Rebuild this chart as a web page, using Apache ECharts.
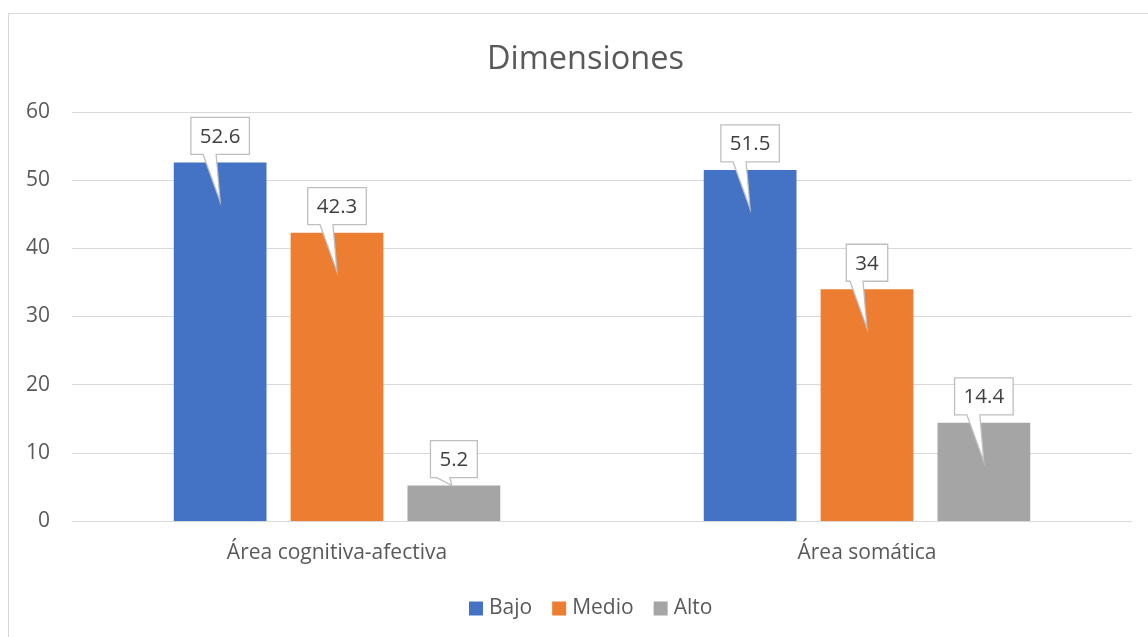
<!DOCTYPE html>
<html>
<head>
<meta charset="utf-8">
<script src="https://cdn.jsdelivr.net/npm/echarts@6/dist/echarts.min.js"></script>
<style>
  html, body { margin: 0; padding: 0; background: #fff; overflow: hidden; }
  #chart { position: absolute; left: 0; top: 0; width: 1148px; height: 637px; }
  #frame { position: absolute; left: 8px; top: 13px; width: 1200px; height: 700px; border: 1px solid #D9D9D9; pointer-events: none; }
</style>
</head>
<body>
<div id="chart"></div>
<div id="frame"></div>
<script>
const categories = ['Área cognitiva-afectiva', 'Área somática'];
const seriesNames = ['Bajo', 'Medio', 'Alto'];
const bajo = [52.6, 51.5];
const medio = [42.3, 34];
const alto = [5.2, 14.4];
const yMin = 0, yMax = 60, yInterval = 10;

const colors = ['#4472C4', '#ED7D31', '#A5A5A5'];
const FONT = '"Open Sans", "Liberation Sans", sans-serif';
const values = [bajo, medio, alto];
const BAR_FRAC = 0.175, GAP_FRAC = 0.26;

const measureCtx = document.createElement('canvas').getContext('2d');
measureCtx.font = '20.5px ' + FONT;

const calloutData = [];
values.forEach((arr, si) => arr.forEach((v, ci) => calloutData.push([ci, v, si])));

const chart = echarts.init(document.getElementById('chart'));
chart.setOption({
  backgroundColor: 'transparent',
  title: {
    text: 'Dimensiones', left: 482, top: 38,
    textStyle: { fontFamily: FONT, fontSize: 32.5, fontWeight: 'normal', color: '#595959' }
  },
  legend: {
    data: seriesNames, bottom: 13, left: 464, icon: 'rect', itemWidth: 14, itemHeight: 14, itemGap: 20,
    textStyle: { fontFamily: FONT, fontSize: 21, color: '#595959', padding: [0, 0, 0, 1] }
  },
  grid: { left: 72, right: 16, top: 112, bottom: 116, containLabel: false },
  xAxis: {
    type: 'category', data: categories,
    axisLine: { lineStyle: { color: '#D9D9D9' } },
    axisTick: { show: false },
    axisLabel: { fontFamily: FONT, fontSize: 21, color: '#595959', margin: 22 }
  },
  yAxis: {
    type: 'value', min: yMin, max: yMax, interval: yInterval,
    axisLine: { show: false }, axisTick: { show: false },
    splitLine: { lineStyle: { color: '#D9D9D9' } },
    axisLabel: { fontFamily: FONT, fontSize: 21, color: '#595959', margin: 22 }
  },
  series: values.map((arr, i) => ({
    name: seriesNames[i], type: 'bar', data: arr,
    barWidth: (BAR_FRAC * 100) + '%', barGap: (GAP_FRAC * 100) + '%',
    itemStyle: { color: colors[i] }
  })).concat([{
    type: 'custom', data: calloutData, z: 10, silent: true,
    renderItem: function (params, api) {
      const ci = api.value(0), v = api.value(1), si = api.value(2);
      const top = api.coord([ci, v]);
      const base = api.coord([ci, 0]);
      const band = api.size([1, 0])[0];
      const bw = band * BAR_FRAC, gap = bw * GAP_FRAC;
      const cx = top[0] + (si - 1) * (bw + gap);
      const txt = String(v);
      const tw = measureCtx.measureText(txt).width;
      const boxW = tw + 18, boxH = 37;
      const B = top[1] - 8, T = B - boxH;
      const L = cx - boxW / 2, R = cx + boxW / 2;
      const h = base[1] - top[1];
      const tipY = top[1] + Math.min(39, Math.max(0, h - 36));
      const tipX = h - 36 > 10 ? cx : cx - 2;
      const p1 = cx - 17, p2 = cx - 4;
      return {
        type: 'group',
        children: [{
          type: 'polygon',
          shape: { points: [[L, T], [R, T], [R, B], [p2, B], [tipX, tipY], [p1, B], [L, B]] },
          style: { fill: '#FFFFFF', stroke: '#BFBFBF', lineWidth: 1.3 }
        }, {
          type: 'text',
          style: {
            text: txt, x: cx, y: T + boxH / 2 + 1, align: 'center', verticalAlign: 'middle',
            font: '20.5px ' + FONT, fill: '#404040'
          }
        }]
      };
    }
  }])
});
</script>
</body>
</html>
